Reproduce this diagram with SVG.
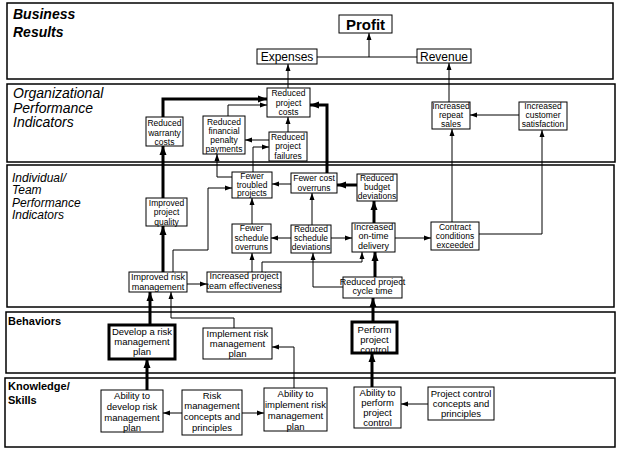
<svg xmlns="http://www.w3.org/2000/svg" width="619" height="452" viewBox="0 0 619 452">
<style>
.panel{fill:#fff;stroke:#000;stroke-width:1.5}
.box{fill:#fff;stroke:#000;stroke-width:1}
.bold{fill:#fff;stroke:#000;stroke-width:3}
.t{font-family:"Liberation Sans",Arial,sans-serif;fill:#000;text-anchor:middle}
.s{font-size:8.5px}
.m{font-size:9px}
.k{font-size:9.5px}
.title{font-family:"Liberation Sans",Arial,sans-serif;fill:#000}
.c{fill:none;stroke:#000;stroke-width:1;marker-end:url(#a)}
.n{fill:none;stroke:#000;stroke-width:1}
.h{fill:none;stroke:#000;stroke-width:3;marker-end:url(#ah)}
</style>
<defs>
<marker id="a" markerUnits="userSpaceOnUse" markerWidth="8" markerHeight="8" refX="7" refY="4" orient="auto"><path d="M0,1.5 L7,4 L0,6.5 Z" fill="#000"/></marker>
<marker id="ah" markerUnits="userSpaceOnUse" markerWidth="10" markerHeight="10" refX="9" refY="5" orient="auto"><path d="M0,1.5 L9,5 L0,8.5 Z" fill="#000"/></marker>
</defs>
<g id="panels">
<rect class="panel" x="7" y="3" width="606" height="76"/>
<rect class="panel" x="7" y="84" width="608" height="78"/>
<rect class="panel" x="7" y="165" width="607" height="142"/>
<rect class="panel" x="6" y="312" width="609" height="61"/>
<rect class="panel" x="5" y="378" width="610" height="69"/>
<text class="title" font-size="14" font-weight="bold" font-style="italic"><tspan x="13" y="19">Business</tspan><tspan x="13" y="37">Results</tspan></text>
<text class="title" font-size="14" font-style="italic"><tspan x="13" y="98">Organizational</tspan><tspan x="13" y="112.5">Performance</tspan><tspan x="13" y="127">Indicators</tspan></text>
<text class="title" font-size="12" font-style="italic"><tspan x="12" y="181.5">Individual/</tspan><tspan x="12" y="194">Team</tspan><tspan x="12" y="206.5">Performance</tspan><tspan x="12" y="219">Indicators</tspan></text>
<text class="title" font-size="11" font-weight="bold" x="8" y="325">Behaviors</text>
<text class="title" font-size="11" font-weight="bold"><tspan x="8" y="390">Knowledge/</tspan><tspan x="8" y="404">Skills</tspan></text>
</g>
<g id="connectors">
<path class="n" d="M317,57 H417"/>
<path class="c" d="M369,57 V33"/>
<path class="c" d="M288,88 V64"/>
<path class="c" d="M449,102 V63"/>
<path class="h" d="M163,198 V146"/>
<path class="h" d="M163,117 V99 H267"/>
<path class="c" d="M228,116 V105 H267"/>
<path class="c" d="M288,132 V117"/>
<path class="c" d="M269,140 H245"/>
<path class="c" d="M253,172 V147 H269"/>
<path class="c" d="M232,177 H217 V154"/>
<path class="h" d="M327,173 V105 H310"/>
<path class="c" d="M519,115 H470"/>
<path class="c" d="M452,222 V129"/>
<path class="c" d="M479,234 H542 V130"/>
<path class="h" d="M163,272 V226"/>
<path class="c" d="M187,284 H207"/>
<path class="c" d="M173,272 V250 H208 V188 H232"/>
<path class="c" d="M252,272 V253"/>
<path class="c" d="M262,272 V262 H362 V252"/>
<path class="c" d="M252,224 V198"/>
<path class="c" d="M291,238 H271"/>
<path class="c" d="M312,225 V193"/>
<path class="c" d="M331,238 H352"/>
<path class="c" d="M291,184 H272"/>
<path class="h" d="M357,185 H337"/>
<path class="h" d="M374,223 V201"/>
<path class="c" d="M395,238 H431"/>
<path class="h" d="M375,277 V252"/>
<path class="c" d="M343,287 H313 V253"/>
<path class="h" d="M150,325 V292"/>
<path class="c" d="M234,328 V318 H171 V292"/>
<path class="h" d="M373,322 V298"/>
<path class="h" d="M147,390 V359"/>
<path class="c" d="M182,413 H163"/>
<path class="c" d="M242,413 H264"/>
<path class="c" d="M294,388 V347 H272"/>
<path class="h" d="M372,387 V353"/>
<path class="c" d="M428,404 H401"/>
</g>
<g id="profit"><rect class="box" x="339" y="15" width="53" height="18"/><text class="t" font-size="15" font-weight="bold" x="365.5" y="29.5">Profit</text></g>
<g id="expenses"><rect class="box" x="257" y="49" width="60" height="15"/><text class="t" font-size="12" x="287" y="61">Expenses</text></g>
<g id="revenue"><rect class="box" x="417" y="49" width="54" height="14"/><text class="t" font-size="12" x="444" y="60.5">Revenue</text></g>
<g id="reduced-project-costs"><rect class="box" x="267" y="88" width="43" height="29"/><text class="t s"><tspan x="288.5" y="96">Reduced</tspan><tspan x="288.5" y="105.5">project</tspan><tspan x="288.5" y="115">costs</tspan></text></g>
<g id="reduced-warranty-costs"><rect class="box" x="146" y="117" width="37" height="29"/><text class="t s"><tspan x="164.5" y="126">Reduced</tspan><tspan x="164.5" y="135.5">warranty</tspan><tspan x="164.5" y="145">costs</tspan></text></g>
<g id="reduced-financial-penalty"><rect class="box" x="203" y="116" width="42" height="38"/><text class="t s"><tspan x="224" y="124.5">Reduced</tspan><tspan x="224" y="133.5">financial</tspan><tspan x="224" y="143">penalty</tspan><tspan x="224" y="152">payments</tspan></text></g>
<g id="reduced-project-failures"><rect class="box" x="269" y="132" width="38" height="29"/><text class="t s"><tspan x="288" y="140">Reduced</tspan><tspan x="288" y="149">project</tspan><tspan x="288" y="158.5">failures</tspan></text></g>
<g id="increased-repeat-sales"><rect class="box" x="432" y="102" width="38" height="27"/><text class="t s"><tspan x="451" y="108.5">Increased</tspan><tspan x="451" y="117.5">repeat</tspan><tspan x="451" y="126.5">sales</tspan></text></g>
<g id="increased-customer-satisfaction"><rect class="box" x="519" y="102" width="48" height="28"/><text class="t s"><tspan x="543" y="108.5">Increased</tspan><tspan x="543" y="118">customer</tspan><tspan x="543" y="127">satisfaction</tspan></text></g>
<g id="improved-project-quality"><rect class="box" x="146" y="198" width="41" height="28"/><text class="t s"><tspan x="166.5" y="205.5">Improved</tspan><tspan x="166.5" y="215">project</tspan><tspan x="166.5" y="224.5">quality</tspan></text></g>
<g id="improved-risk-management"><rect class="box" x="129" y="272" width="58" height="20"/><text class="t m"><tspan x="158" y="279.5">Improved risk</tspan><tspan x="158" y="289.5">management</tspan></text></g>
<g id="increased-team-effectiveness"><rect class="box" x="207" y="272" width="74" height="20"/><text class="t m"><tspan x="244" y="279">Increased project</tspan><tspan x="244" y="289">team effectiveness</tspan></text></g>
<g id="fewer-troubled-projects"><rect class="box" x="232" y="172" width="40" height="26"/><text class="t s"><tspan x="252" y="178.5">Fewer</tspan><tspan x="252" y="187.5">troubled</tspan><tspan x="252" y="196">projects</tspan></text></g>
<g id="fewer-schedule-overruns"><rect class="box" x="232" y="224" width="39" height="29"/><text class="t s"><tspan x="251.5" y="230.5">Fewer</tspan><tspan x="251.5" y="240.5">schedule</tspan><tspan x="251.5" y="249.5">overruns</tspan></text></g>
<g id="fewer-cost-overruns"><rect class="box" x="291" y="173" width="46" height="20"/><text class="t s"><tspan x="314" y="181">Fewer cost</tspan><tspan x="314" y="190.5">overruns</tspan></text></g>
<g id="reduced-budget-deviations"><rect class="box" x="357" y="174" width="40" height="27"/><text class="t s"><tspan x="377" y="181">Reduced</tspan><tspan x="377" y="189.5">budget</tspan><tspan x="377" y="198.5">deviations</tspan></text></g>
<g id="reduced-schedule-deviations"><rect class="box" x="291" y="225" width="40" height="28"/><text class="t s"><tspan x="311" y="232">Reduced</tspan><tspan x="311" y="241">schedule</tspan><tspan x="311" y="250">deviations</tspan></text></g>
<g id="increased-on-time-delivery"><rect class="box" x="352" y="223" width="43" height="29"/><text class="t m"><tspan x="373.5" y="230">Increased</tspan><tspan x="373.5" y="239">on-time</tspan><tspan x="373.5" y="248.5">delivery</tspan></text></g>
<g id="contract-conditions-exceeded"><rect class="box" x="431" y="222" width="48" height="28"/><text class="t s"><tspan x="455" y="229.5">Contract</tspan><tspan x="455" y="238.5">conditions</tspan><tspan x="455" y="248">exceeded</tspan></text></g>
<g id="reduced-project-cycle-time"><rect class="box" x="343" y="277" width="59" height="21"/><text class="t m"><tspan x="372.5" y="284.5">Reduced project</tspan><tspan x="372.5" y="294">cycle time</tspan></text></g>
<g id="develop-risk-plan"><rect class="bold" x="109" y="325" width="66" height="34"/><text class="t k"><tspan x="142" y="334.5">Develop a risk</tspan><tspan x="142" y="344.5">management</tspan><tspan x="142" y="355">plan</tspan></text></g>
<g id="implement-risk-plan"><rect class="box" x="203" y="328" width="69" height="31"/><text class="t k"><tspan x="237.5" y="336.5">Implement risk</tspan><tspan x="237.5" y="346.5">management</tspan><tspan x="237.5" y="357">plan</tspan></text></g>
<g id="perform-project-control"><rect class="bold" x="352" y="322" width="45" height="31"/><text class="t k"><tspan x="374.5" y="332.5">Perform</tspan><tspan x="374.5" y="342.5">project</tspan><tspan x="374.5" y="352.5">control</tspan></text></g>
<g id="ability-develop"><rect class="box" x="101" y="390" width="62" height="42"/><text class="t k"><tspan x="132" y="399">Ability to</tspan><tspan x="132" y="410">develop risk</tspan><tspan x="132" y="421">management</tspan><tspan x="132" y="431">plan</tspan></text></g>
<g id="risk-concepts"><rect class="box" x="182" y="390" width="60" height="45"/><text class="t k"><tspan x="212" y="398.5">Risk</tspan><tspan x="212" y="409">management</tspan><tspan x="212" y="420">concepts and</tspan><tspan x="212" y="430.5">principles</tspan></text></g>
<g id="ability-implement"><rect class="box" x="264" y="388" width="63" height="43"/><text class="t k"><tspan x="295.5" y="397">Ability to</tspan><tspan x="295.5" y="408">implement risk</tspan><tspan x="295.5" y="419">management</tspan><tspan x="295.5" y="429.5">plan</tspan></text></g>
<g id="ability-perform"><rect class="box" x="354" y="387" width="47" height="41"/><text class="t k"><tspan x="377.5" y="395.5">Ability to</tspan><tspan x="377.5" y="405.5">perform</tspan><tspan x="377.5" y="415.5">project</tspan><tspan x="377.5" y="426">control</tspan></text></g>
<g id="project-control-concepts"><rect class="box" x="428" y="387" width="66" height="33"/><text class="t k"><tspan x="461" y="396.5">Project control</tspan><tspan x="461" y="406.5">concepts and</tspan><tspan x="461" y="417">principles</tspan></text></g>
</svg>
